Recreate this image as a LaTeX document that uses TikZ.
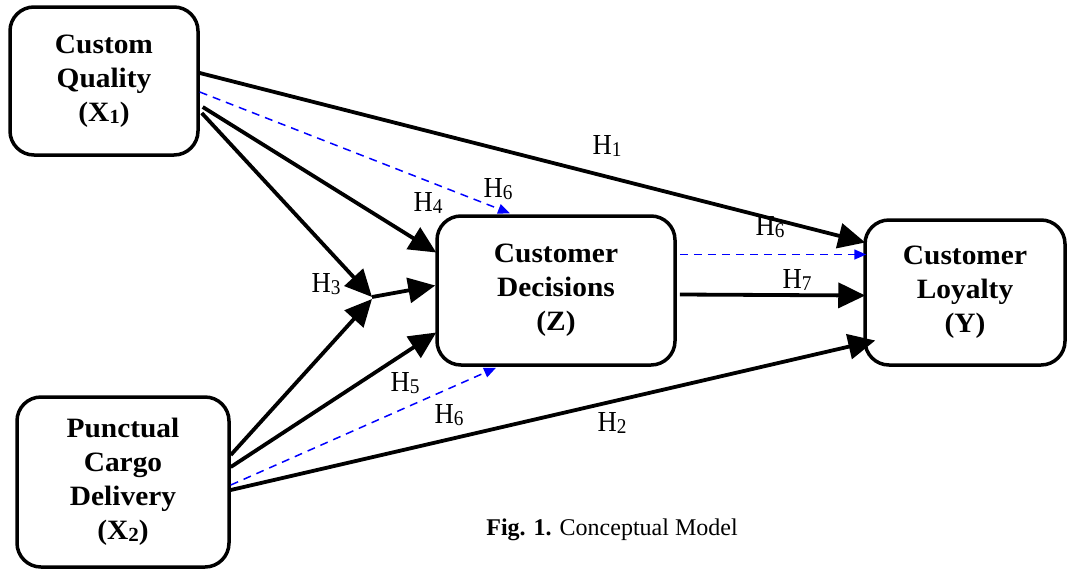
\documentclass[tikz,border=0pt]{standalone}
\usepackage{fontspec}
\setmainfont{Liberation Serif}
\newfontfamily\boxfont{Liberation Serif}[FakeStretch=1.05]
\newfontfamily\labfont{Liberation Serif}[FakeStretch=0.92]
\newcommand{\hsub}[1]{\raisebox{-2.5pt}{\fontsize{21}{21}\selectfont #1}}
\newcommand{\bsub}[1]{\raisebox{-2pt}{\fontsize{20}{20}\selectfont #1}}
\usetikzlibrary{arrows.meta,calc}
\begin{document}
\begin{tikzpicture}[x=1pt,y=-1pt,
 box/.style={draw,line width=3.5pt,rounded corners=24pt,align=center,
   font=\fontsize{28}{34}\boxfont\bfseries,inner sep=0pt},
 conn/.style={line width=3.8pt,-{Triangle[length=27pt,width=25pt]}},
 dconn/.style={blue,line width=1.5pt,dash pattern=on 8pt off 6pt,
   -{Triangle[length=12pt,width=10pt]}},
 hlab/.style={font=\fontsize{29}{30}\labfont,inner sep=0pt}]
\useasboundingbox (0,0) rectangle (1067,568);
% boxes
\node[box,minimum width=188pt,minimum height=148pt] (x1) at (104,81)
  {Custom\\Quality\\(X\bsub{1})};
\node[box,minimum width=212pt,minimum height=170pt] (x2) at (123,482)
  {Punctual\\Cargo\\Delivery\\(X\bsub{2})};
\node[box,minimum width=238pt,minimum height=149pt] (z) at (556,290.5)
  {Customer\\Decisions\\(Z)};
\node[box,minimum width=200pt,minimum height=145pt] (y) at (965,292.5)
  {Customer\\Loyalty\\(Y)};
\coordinate (j) at (372,297);
% connectors
\draw[conn] ([yshift=8pt]x1.east) -- ([xshift=2pt,yshift=50pt]y.west);
\draw[dconn] ([yshift=-11pt]x1.east) -- ([xshift=-46pt,yshift=1pt]z.north);
\draw[conn] ([xshift=3pt,yshift=-26pt]x1.east) -- ([xshift=1pt,yshift=38pt]z.west);
\draw[conn] ([xshift=2pt,yshift=-32pt]x1.east) -- (j);
\draw[conn] (j) -- ([yshift=5pt]z.west);
\draw[conn] ([yshift=27pt]x2.east) -- ([yshift=-2pt]j);
\draw[conn] ([yshift=15pt]x2.east) -- ([xshift=1pt,yshift=-42pt]z.west);
\draw[dconn] ([yshift=-3pt]x2.east) -- ([xshift=-60pt,yshift=-1pt]z.south);
\draw[conn] ([yshift=-8pt]x2.east) -- ([xshift=12pt,yshift=-48pt]y.west);
\draw[dconn] ([xshift=3pt,yshift=36pt]z.east) -- ([xshift=3pt,yshift=38pt]y.west);
\draw[conn] ([xshift=3pt,yshift=-4pt]z.east) -- ([xshift=2pt,yshift=-3pt]y.west);
% labels
\node[hlab] (h1) at (607,146) {H\hsub{1}};
\node[hlab] (h6a) at (498,189) {H\hsub{6}};
\node[hlab] (h4) at (428,203) {H\hsub{4}};
\node[hlab] (h6b) at (770,227) {H\hsub{6}};
\node[hlab] (h7) at (797,280) {H\hsub{7}};
\node[hlab] (h3) at (326,284) {H\hsub{3}};
\node[hlab] (h5) at (405,383) {H\hsub{5}};
\node[hlab] (h6c) at (449,415) {H\hsub{6}};
\node[hlab] (h2) at (612,423) {H\hsub{2}};
% caption
\node[inner sep=0pt,font=\fontsize{24}{28}\selectfont] (cap) at (612,530)
  {\textbf{Fig. 1.} Conceptual Model};
\end{tikzpicture}
\end{document}
